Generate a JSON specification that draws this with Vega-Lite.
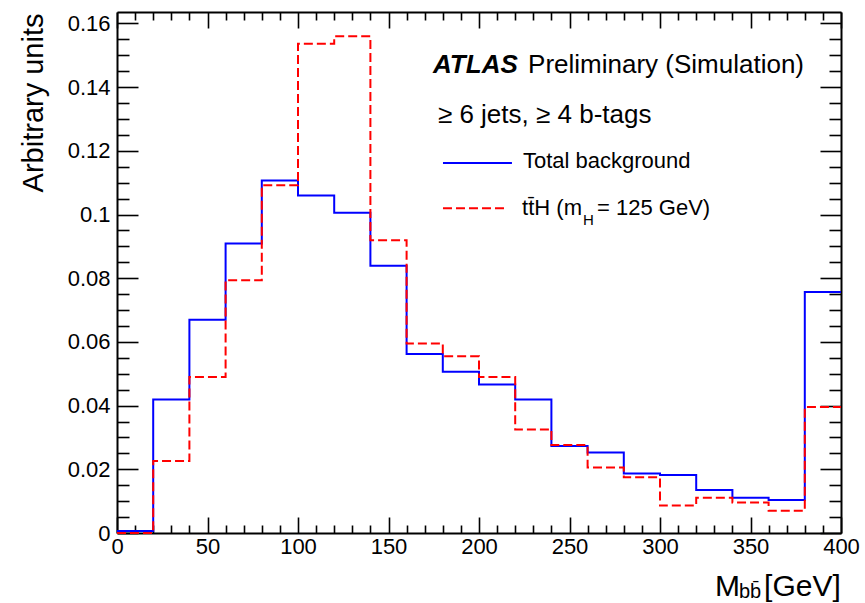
{
  "$schema": "https://vega.github.io/schema/vega-lite/v6.json",
  "width": 724,
  "height": 521,
  "autosize": {"type": "none"},
  "padding": {"left": 117, "top": 12, "right": 24, "bottom": 70},
  "background": "white",
  "config": {
    "view": {"stroke": null},
    "font": "Liberation Sans",
    "axis": {
      "domainColor": "black",
      "domainWidth": 2,
      "tickColor": "black",
      "tickWidth": 1.6,
      "labelColor": "black",
      "labelFont": "Liberation Sans",
      "labelFontSize": 22,
      "grid": false,
      "titleColor": "black"
    },
    "text": {"font": "Liberation Sans", "fill": "black", "baseline": "alphabetic", "align": "left"}
  },
  "datasets": {
    "hist": [
      {"m": 0, "bkg": 0.0006, "tth": 0.0},
      {"m": 20, "bkg": 0.0419, "tth": 0.0226},
      {"m": 40, "bkg": 0.0670, "tth": 0.0490},
      {"m": 60, "bkg": 0.0909, "tth": 0.0794},
      {"m": 80, "bkg": 0.1107, "tth": 0.1092},
      {"m": 100, "bkg": 0.1060, "tth": 0.1536},
      {"m": 120, "bkg": 0.1006, "tth": 0.1560},
      {"m": 140, "bkg": 0.0839, "tth": 0.0919},
      {"m": 160, "bkg": 0.0562, "tth": 0.0595},
      {"m": 180, "bkg": 0.0506, "tth": 0.0555},
      {"m": 200, "bkg": 0.0466, "tth": 0.0490},
      {"m": 220, "bkg": 0.0419, "tth": 0.0325},
      {"m": 240, "bkg": 0.0273, "tth": 0.0276},
      {"m": 260, "bkg": 0.0253, "tth": 0.0206},
      {"m": 280, "bkg": 0.0187, "tth": 0.0175},
      {"m": 300, "bkg": 0.0182, "tth": 0.0086},
      {"m": 320, "bkg": 0.0135, "tth": 0.0111},
      {"m": 340, "bkg": 0.0111, "tth": 0.0096},
      {"m": 360, "bkg": 0.0104, "tth": 0.0070},
      {"m": 380, "bkg": 0.0757, "tth": 0.0396},
      {"m": 400, "bkg": 0.0757, "tth": 0.0396}
    ],
    "one": [{}]
  },
  "resolve": {"axis": {"x": "independent", "y": "independent"}},
  "layer": [
    {
      "data": {"name": "hist"},
      "mark": {"type": "line", "interpolate": "step-after", "color": "#0000ff", "strokeWidth": 2},
      "encoding": {
        "x": {
          "field": "m", "type": "quantitative",
          "scale": {"domain": [0, 400], "nice": false, "zero": false},
          "axis": {
            "orient": "bottom", "title": null,
            "values": [0, 50, 100, 150, 200, 250, 300, 350, 400],
            "tickSize": -16, "labelPadding": 19, "labelFlush": false,
            "labelExpr": "format(datum.value, '~g')"
          }
        },
        "y": {
          "field": "bkg", "type": "quantitative",
          "scale": {"domain": [0, 0.1636], "nice": false, "zero": false},
          "axis": {
            "orient": "left",
            "values": [0, 0.02, 0.04, 0.06, 0.08, 0.1, 0.12, 0.14, 0.16],
            "tickSize": -21, "labelPadding": 28, "labelFlush": false,
            "labelExpr": "format(datum.value, '~g')",
            "title": "Arbitrary units",
            "titleFont": "Liberation Sans", "titleFontSize": 29, "titleFontWeight": "normal",
            "titleAngle": 270, "titleAlign": "right", "titleBaseline": "alphabetic",
            "titleX": -75, "titleY": 1
          }
        }
      }
    },
    {
      "data": {"name": "hist"},
      "mark": {"type": "line", "interpolate": "step-after", "color": "#ff0000", "strokeWidth": 2, "strokeDash": [9, 4]},
      "encoding": {
        "x": {
          "field": "m", "type": "quantitative",
          "scale": {"domain": [0, 400], "nice": false, "zero": false},
          "axis": {
            "orient": "bottom", "title": null, "domain": false, "labels": false,
            "values": [10, 20, 30, 40, 60, 70, 80, 90, 110, 120, 130, 140, 160, 170, 180, 190, 210, 220, 230, 240, 260, 270, 280, 290, 310, 320, 330, 340, 360, 370, 380, 390],
            "tickSize": -8
          }
        },
        "y": {
          "field": "tth", "type": "quantitative",
          "scale": {"domain": [0, 0.1636], "nice": false, "zero": false},
          "axis": {
            "orient": "left", "title": null, "domain": false, "labels": false,
            "values": [0.005, 0.01, 0.015, 0.025, 0.03, 0.035, 0.045, 0.05, 0.055, 0.065, 0.07, 0.075, 0.085, 0.09, 0.095, 0.105, 0.11, 0.115, 0.125, 0.13, 0.135, 0.145, 0.15, 0.155],
            "tickSize": -12
          }
        }
      }
    },
    {
      "data": {"name": "one"},
      "mark": {"type": "rule", "color": "#0000ff", "strokeWidth": 2},
      "encoding": {
        "x": {
          "datum": 180.1, "type": "quantitative",
          "scale": {"domain": [0, 400], "nice": false, "zero": false},
          "axis": {
            "orient": "top", "title": null, "labels": false,
            "values": [0, 50, 100, 150, 200, 250, 300, 350, 400],
            "tickSize": -16
          }
        },
        "x2": {"datum": 218.2},
        "y": {
          "datum": 0.1162, "type": "quantitative",
          "scale": {"domain": [0, 0.1636], "nice": false, "zero": false},
          "axis": {
            "orient": "right", "title": null, "labels": false,
            "values": [0, 0.02, 0.04, 0.06, 0.08, 0.1, 0.12, 0.14, 0.16],
            "tickSize": -21
          }
        }
      }
    },
    {
      "data": {"name": "one"},
      "mark": {"type": "rule", "color": "#ff0000", "strokeWidth": 2, "strokeDash": [9, 4]},
      "encoding": {
        "x": {
          "datum": 180.1, "type": "quantitative",
          "scale": {"domain": [0, 400], "nice": false, "zero": false},
          "axis": {
            "orient": "top", "title": null, "labels": false, "domain": false,
            "values": [10, 20, 30, 40, 60, 70, 80, 90, 110, 120, 130, 140, 160, 170, 180, 190, 210, 220, 230, 240, 260, 270, 280, 290, 310, 320, 330, 340, 360, 370, 380, 390],
            "tickSize": -8
          }
        },
        "x2": {"datum": 215.5},
        "y": {
          "datum": 0.1020, "type": "quantitative",
          "scale": {"domain": [0, 0.1636], "nice": false, "zero": false},
          "axis": {
            "orient": "right", "title": null, "labels": false, "domain": false,
            "values": [0.005, 0.01, 0.015, 0.025, 0.03, 0.035, 0.045, 0.05, 0.055, 0.065, 0.07, 0.075, 0.085, 0.09, 0.095, 0.105, 0.11, 0.115, 0.125, 0.13, 0.135, 0.145, 0.15, 0.155],
            "tickSize": -12
          }
        }
      }
    },
    {
      "data": {"name": "one"},
      "mark": {"type": "text", "text": "ATLAS", "fontSize": 26, "fontWeight": "bold", "fontStyle": "italic"},
      "encoding": {
        "x": {"datum": 174.6, "type": "quantitative", "axis": null},
        "y": {"datum": 0.1444, "type": "quantitative", "axis": null}
      }
    },
    {
      "data": {"name": "one"},
      "mark": {"type": "text", "text": "Preliminary (Simulation)", "fontSize": 26},
      "encoding": {
        "x": {"datum": 227.1, "type": "quantitative", "axis": null},
        "y": {"datum": 0.1444, "type": "quantitative", "axis": null}
      }
    },
    {
      "data": {"name": "one"},
      "mark": {"type": "text", "text": "≥ 6 jets, ≥ 4 b-tags", "fontSize": 26},
      "encoding": {
        "x": {"datum": 177.3, "type": "quantitative", "axis": null},
        "y": {"datum": 0.1286, "type": "quantitative", "axis": null}
      }
    },
    {
      "data": {"name": "one"},
      "mark": {"type": "text", "text": "Total background", "fontSize": 22},
      "encoding": {
        "x": {"datum": 224.3, "type": "quantitative", "axis": null},
        "y": {"datum": 0.1145, "type": "quantitative", "axis": null}
      }
    },
    {
      "data": {"name": "one"},
      "mark": {"type": "text", "text": "tt̄H (m", "fontSize": 22},
      "encoding": {
        "x": {"datum": 223.8, "type": "quantitative", "axis": null},
        "y": {"datum": 0.1000, "type": "quantitative", "axis": null}
      }
    },
    {
      "data": {"name": "one"},
      "mark": {"type": "text", "text": "H", "fontSize": 15},
      "encoding": {
        "x": {"datum": 257.5, "type": "quantitative", "axis": null},
        "y": {"datum": 0.0967, "type": "quantitative", "axis": null}
      }
    },
    {
      "data": {"name": "one"},
      "mark": {"type": "text", "text": "= 125 GeV)", "fontSize": 22},
      "encoding": {
        "x": {"datum": 265.2, "type": "quantitative", "axis": null},
        "y": {"datum": 0.1000, "type": "quantitative", "axis": null}
      }
    },
    {
      "data": {"name": "one"},
      "mark": {"type": "text", "text": "M", "fontSize": 30},
      "encoding": {
        "x": {"datum": 330.4, "type": "quantitative", "axis": null},
        "y": {"datum": -0.0198, "type": "quantitative", "axis": null}
      }
    },
    {
      "data": {"name": "one"},
      "mark": {"type": "text", "text": "bb̄", "fontSize": 20},
      "encoding": {
        "x": {"datum": 343.6, "type": "quantitative", "axis": null},
        "y": {"datum": -0.0204, "type": "quantitative", "axis": null}
      }
    },
    {
      "data": {"name": "one"},
      "mark": {"type": "text", "text": "[GeV]", "fontSize": 30},
      "encoding": {
        "x": {"datum": 357.5, "type": "quantitative", "axis": null},
        "y": {"datum": -0.0198, "type": "quantitative", "axis": null}
      }
    }
  ]
}
